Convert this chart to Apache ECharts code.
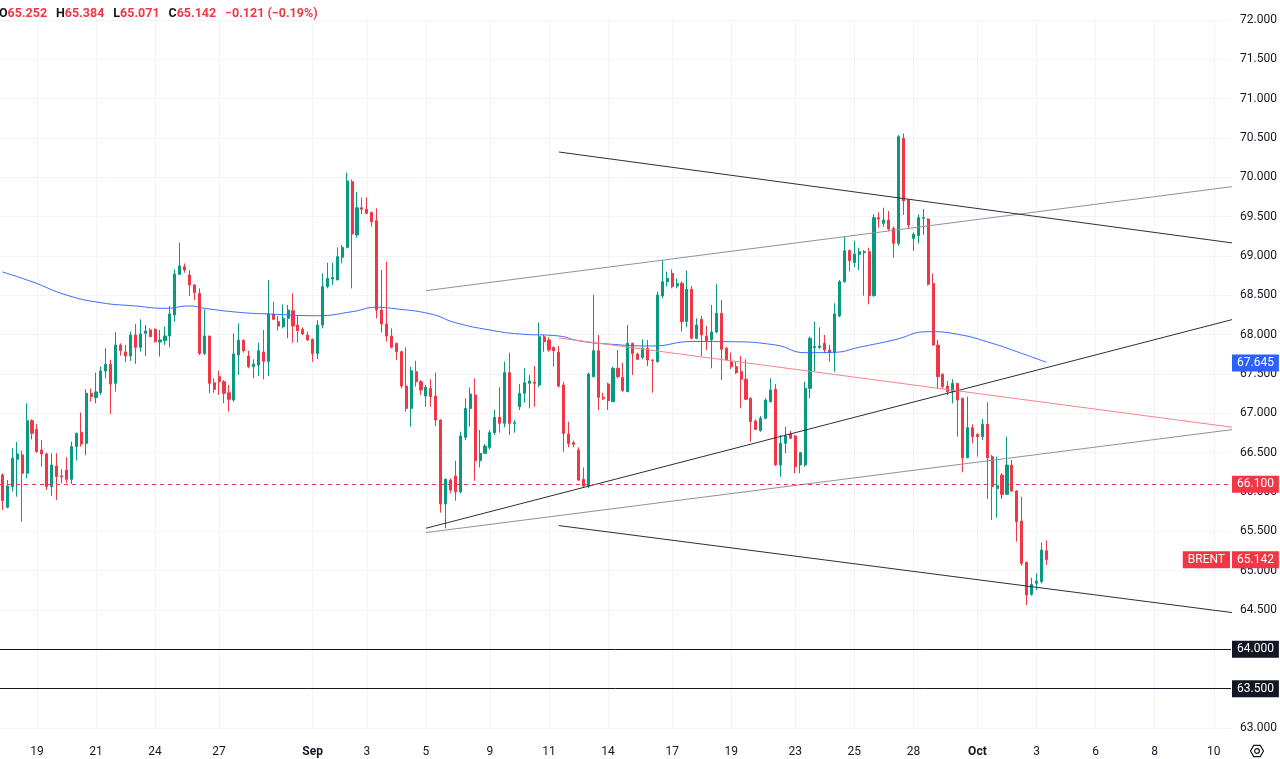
<!DOCTYPE html>
<html><head><meta charset="utf-8">
<script src="https://cdn.jsdelivr.net/npm/echarts@6.0.0/dist/echarts.min.js"></script>
<style>html,body{margin:0;padding:0;background:#fff}#c{width:1280px;height:759px}</style>
</head><body><div id="c"></div>
<script>
// ---- data (4h candles, BRENT) ----
const openP = [66.217,65.806,66.068,66.416,66.471,66.238,66.907,66.797,66.534,66.484,66.068,66.331,66.204,66.280,66.162,66.577,66.759,66.619,67.255,67.200,
67.263,67.539,67.623,67.382,67.869,67.780,67.729,67.996,67.839,68.017,68.060,68.068,67.907,67.924,67.984,68.250,68.767,68.864,68.758,68.631,
68.525,67.762,67.983,67.389,67.466,67.402,67.262,67.169,67.741,67.928,67.728,67.593,67.614,67.779,67.661,68.262,68.165,68.101,68.207,68.305,
68.123,68.067,67.995,67.940,67.762,68.123,68.610,68.707,68.695,68.983,69.110,69.945,69.267,69.614,69.593,69.555,69.449,68.313,68.135,67.983,
67.889,67.784,67.347,67.063,67.529,67.402,67.220,67.317,67.220,66.915,65.847,66.152,66.203,66.004,66.695,67.063,67.233,66.398,66.491,66.567,
66.754,66.949,66.873,67.517,66.873,67.084,67.254,67.381,67.398,67.360,67.974,67.932,67.839,67.775,67.360,66.737,66.627,66.534,66.161,66.076,
67.466,67.796,67.203,67.373,67.148,67.572,67.457,67.275,67.890,67.754,67.712,67.826,67.678,67.657,68.491,68.673,68.779,68.618,68.653,68.166,
68.577,67.954,68.195,67.983,67.933,68.034,68.272,67.827,67.657,67.594,67.530,67.433,67.191,66.903,66.780,66.937,67.149,67.305,66.344,66.619,
66.738,66.712,66.344,66.344,67.318,67.835,67.839,67.890,67.805,67.772,68.238,68.674,69.068,68.916,69.021,69.042,69.055,68.496,69.487,69.415,
69.457,69.351,69.161,70.496,69.712,69.224,69.258,69.479,69.470,68.652,67.868,67.496,67.347,67.275,67.381,67.190,66.436,66.818,66.733,66.703,
66.860,66.449,66.046,66.216,65.970,66.343,66.012,65.631,65.106,64.699,64.839,64.860,65.252];
const closeP = [65.890,66.077,66.428,66.484,66.238,66.907,66.746,66.513,66.484,66.068,66.344,66.195,66.191,66.162,66.577,66.746,66.611,67.255,67.212,67.272,
67.539,67.623,67.373,67.869,67.797,67.729,67.996,67.839,68.009,68.047,67.975,67.912,67.933,67.984,68.263,68.772,68.873,68.822,68.631,68.534,
67.762,67.983,67.381,67.305,67.402,67.254,67.178,67.754,67.928,67.796,67.593,67.627,67.796,67.661,68.262,68.195,68.110,68.207,68.313,68.110,
68.051,68.008,67.932,67.762,68.123,68.610,68.716,68.728,68.991,69.110,69.953,69.279,69.614,69.593,69.542,69.436,68.313,68.135,67.983,67.839,
67.784,67.347,67.063,67.542,67.402,67.296,67.330,67.212,66.915,65.847,66.161,66.025,66.004,66.712,67.063,67.245,66.398,66.491,66.584,66.754,
66.949,66.873,67.517,66.873,66.881,67.254,67.390,67.411,67.381,67.974,67.911,67.805,67.796,67.347,66.745,66.618,66.606,66.152,66.076,67.500,
67.796,67.203,67.186,67.161,67.572,67.466,67.288,67.890,67.762,67.686,67.826,67.678,67.669,68.504,68.673,68.716,68.610,68.652,68.166,68.577,
67.954,68.123,67.996,67.924,68.034,68.272,67.814,67.678,67.594,67.517,67.433,67.178,66.894,66.797,66.937,67.170,67.297,66.344,66.619,66.712,
66.683,66.322,66.500,67.318,67.954,67.848,67.856,67.805,67.772,68.263,68.674,69.068,68.941,69.026,69.055,69.055,68.496,69.487,69.470,69.457,
69.343,69.161,70.517,69.699,69.394,69.275,69.487,69.487,68.640,67.868,67.466,67.339,67.275,67.381,67.169,66.436,66.818,66.703,66.703,66.860,
66.436,66.068,66.080,65.970,66.343,66.012,65.623,65.093,64.690,64.826,64.868,65.262,65.142];
const lowP = [65.772,65.793,66.005,65.941,65.623,66.174,66.670,66.500,66.323,66.026,65.950,65.899,66.111,66.111,66.102,66.399,66.577,66.467,67.149,67.128,
67.234,67.445,66.992,67.276,67.734,67.649,67.666,67.628,67.784,67.729,67.967,67.899,67.721,67.869,67.839,68.166,68.759,68.788,68.491,68.440,
67.741,67.741,67.254,67.262,67.233,67.127,67.021,67.148,67.487,67.771,67.572,67.445,67.474,67.432,67.474,68.186,68.051,68.080,67.953,67.898,
67.898,67.995,67.923,67.656,67.690,68.080,68.589,68.631,68.695,68.906,69.097,68.589,69.233,69.534,69.534,69.373,68.207,68.025,67.911,67.826,
67.678,67.317,67.021,66.830,67.339,67.233,67.084,67.084,66.839,65.737,65.538,65.983,65.889,65.983,66.661,66.830,66.144,66.313,66.483,66.542,
66.724,66.754,66.822,66.724,66.754,67.042,67.135,67.063,67.084,67.330,67.784,67.784,67.593,67.330,66.512,66.568,66.568,66.144,66.059,66.046,
67.457,67.042,67.169,67.042,67.148,67.445,67.275,67.275,67.487,67.678,67.686,67.601,67.262,67.644,68.462,68.610,68.589,68.589,68.039,68.094,
67.941,67.941,67.729,67.805,67.572,68.017,67.424,67.670,67.560,67.500,67.064,67.170,66.640,66.789,66.767,66.924,67.136,66.331,66.195,66.492,
66.670,66.238,66.238,66.322,67.191,67.530,67.814,67.763,67.657,67.530,68.221,68.661,68.801,68.856,68.822,68.496,68.385,68.483,69.360,69.373,
69.318,68.979,69.131,69.521,69.343,69.063,69.161,69.267,68.623,67.860,67.309,67.318,67.233,67.127,66.703,66.250,66.428,66.618,66.449,66.661,
65.911,65.644,65.673,65.911,65.962,66.004,65.368,65.063,64.563,64.682,64.754,64.839,65.071];
const highP = [66.238,66.153,66.556,66.636,66.526,67.128,66.924,66.865,66.662,66.500,66.492,66.492,66.289,66.441,66.640,66.755,67.009,67.306,67.314,67.517,
67.594,67.827,67.678,68.034,67.890,67.869,68.039,68.136,68.195,68.123,68.081,68.081,68.060,68.102,68.365,68.831,69.170,68.906,68.822,68.644,
68.589,68.322,67.983,67.445,67.542,67.423,67.360,68.017,68.144,67.940,67.796,67.686,67.898,68.059,68.695,68.419,68.237,68.385,68.377,68.525,
68.250,68.093,68.038,67.953,68.186,68.779,68.915,68.915,69.110,69.139,70.059,69.974,69.817,69.745,69.745,69.563,69.606,68.822,68.928,68.080,
67.898,67.796,67.839,67.593,67.669,67.423,67.360,67.432,67.517,66.923,66.173,66.173,66.398,66.767,67.190,67.330,67.445,66.788,66.610,66.788,
67.042,67.330,67.656,67.771,66.915,67.373,67.572,67.487,67.601,68.152,67.995,67.966,67.847,67.856,67.402,66.894,66.652,66.568,66.313,67.517,
68.504,67.995,67.262,67.390,67.593,67.805,67.644,68.123,67.898,67.771,67.940,67.932,67.686,68.546,68.949,68.801,68.830,68.716,68.674,68.814,
68.619,68.208,68.238,68.111,68.377,68.644,68.441,67.848,67.772,67.657,67.729,67.687,67.204,66.924,66.966,67.191,67.445,67.373,66.725,66.831,
66.780,66.725,66.500,67.403,67.975,68.166,68.094,67.996,67.869,68.399,68.695,69.246,69.085,69.195,69.106,69.076,69.106,69.529,69.555,69.614,
69.572,69.373,70.538,70.559,69.724,69.301,69.529,69.597,69.479,68.779,67.932,67.508,67.411,67.436,67.381,67.199,67.212,66.860,66.746,66.928,
67.140,66.470,66.449,66.237,66.703,66.407,66.025,65.940,65.114,64.911,64.966,65.360,65.384];

// moving average (sparse readings: [slot index, value])
const maPoints = [[0,68.797],[6,68.673],[13,68.504],[20,68.406],[27,68.365],[33,68.335],[38,68.365],[41,68.335],[48,68.284],[54,68.263],
[64,68.241],[71,68.292],[76,68.348],[79,68.335],[87,68.263],[92,68.152],[99,68.059],[105,68.009],[113,67.983],[117,67.923],
[123,67.881],[132,67.856],[140,67.913],[147,67.911],[157,67.869],[163,67.771],[169,67.776],[174,67.840],[181,67.932],[188,68.038],
[194,68.005],[201,67.890],[206,67.784],[212,67.649]];
const maLast = 67.645;

// time slots and tick labels
const slotCount = 250;
const tickIdx  = [7,19,31,44,63,74,86,99,111,123,136,148,161,173,185,198,210,222,234,246];
const tickText = ['19','21','24','27','Sep','3','5','9','11','14','17','19','23','25','28','Oct','3','6','8','10'];

// drawings: [x1, price1, x2, price2]
const grayUpper   = [86.02, 68.559, 249.5, 69.884];
const blackUpper  = [113.23, 70.322, 249.5, 69.164];
const blackRising = [86.02, 65.539, 249.5, 68.196];
const grayLower   = [86.02, 65.484, 249.5, 66.795];
const redLine     = [113.03, 67.958, 249.5, 66.821];
const blackLower  = [113.23, 65.573, 249.5, 64.465];
const levels = [64, 63.5];
const alertLevel = 66.1;
const symbolName = 'BRENT';
const changeAbs = -0.121, changePct = -0.19;

// ---- chart ----
const UP = '#089981', DN = '#f23645', INK = '#131722', GRID = '#f0f3fa';
const cats = Array.from({length: slotCount}, (_, i) => String(i));
const candles = openP.map((o, i) => [o, closeP[i], lowP[i], highP[i]]);
const tickSet = new Set(tickIdx);
const last = openP.length - 1;
const f3 = v => v.toFixed(3);
const sgn = v => (v < 0 ? '\u2212' : '+') + Math.abs(v);
const HIDDEN = {color: 'rgba(0,0,0,0)', width: 1, type: 'solid'};

function seg(arr, color) {
  return {
    type: 'line', data: [[arr[0], arr[1]], [arr[2], arr[3]]],
    showSymbol: false, symbol: 'none', silent: true, z: 4, clip: true,
    lineStyle: {color: color, width: 1}
  };
}
function boxLabel(text, bg, pos) {
  return {show: true, position: pos || 'end', distance: 1, formatter: text, color: '#fff', opacity: 1,
    backgroundColor: bg, padding: [3, 5, 2, 5], fontSize: 12, fontFamily: 'Roboto, sans-serif'};
}

const chart = echarts.init(document.getElementById('c'), null, {renderer: 'canvas'});
chart.setOption({
  animation: false,
  backgroundColor: '#fff',
  textStyle: {fontFamily: 'Roboto, "Noto Sans", sans-serif'},
  title: {
    left: -1, top: 5, padding: 0,
    text: '{d|O}{r|' + f3(openP[last]) + '}  {d|H}{r|' + f3(highP[last]) + '}  {d|L}{r|' + f3(lowP[last]) +
          '}  {d|C}{r|' + f3(closeP[last]) + '}  {r|' + sgn(changeAbs) + ' (' + sgn(changePct) + '%)}',
    textStyle: {
      rich: {
        d: {color: INK, fontSize: 12.5, fontFamily: 'Roboto, sans-serif'},
        r: {color: DN, fontSize: 12.5, fontFamily: 'Roboto, sans-serif'}
      }
    }
  },
  grid: {left: 0, right: 49, top: 20, bottom: 31},
  xAxis: {
    type: 'category', data: cats, boundaryGap: true,
    axisLine: {show: false}, axisTick: {show: false, alignWithLabel: true},
    axisLabel: {
      interval: (i) => tickSet.has(i), margin: 18, color: INK, fontSize: 12,
      formatter: (v) => {
        const t = tickText[tickIdx.indexOf(Number(v))];
        return isNaN(Number(t)) ? '{b|' + t + '}' : t;
      },
      rich: {b: {fontWeight: 'bold', fontSize: 12, color: INK}}
    },
    splitLine: {show: true, interval: (i) => tickSet.has(i), alignWithLabel: true, lineStyle: {color: GRID, width: 1}}
  },
  yAxis: {
    type: 'value', position: 'right', min: 63, max: 72, interval: 0.5,
    axisLine: {show: false}, axisTick: {show: false},
    axisLabel: {formatter: v => v.toFixed(3), color: INK, fontSize: 12, margin: 9},
    splitLine: {lineStyle: {color: GRID, width: 1}}
  },
  series: [
    {
      type: 'candlestick', data: candles, barWidth: 2.6, z: 2,
      itemStyle: {color: UP, color0: DN, borderColor: UP, borderColor0: DN, borderWidth: 1},
      markLine: {
        silent: true, symbol: ['none', 'none'], animation: false, z: 5,
        label: {show: false},
        data: [
          {yAxis: alertLevel, lineStyle: {color: DN, width: 1, type: [4, 4]}, label: boxLabel(f3(alertLevel), DN)},
          {yAxis: levels[0], lineStyle: {color: INK, width: 1, type: 'solid'}, label: boxLabel(f3(levels[0]), INK)},
          {yAxis: levels[1], lineStyle: {color: INK, width: 1, type: 'solid'}, label: boxLabel(f3(levels[1]), INK)},
          {yAxis: maLast, lineStyle: HIDDEN, label: boxLabel(f3(maLast), '#2962ff')},
          {yAxis: closeP[last], lineStyle: HIDDEN, label: boxLabel(f3(closeP[last]), DN)},
          {yAxis: closeP[last], lineStyle: HIDDEN, label: boxLabel(symbolName, DN, 'insideEnd')}
        ]
      }
    },
    {
      type: 'line', data: maPoints, smooth: true, showSymbol: false, symbol: 'none', silent: true, z: 3,
      lineStyle: {color: '#3a6cff', width: 1}
    },
    seg(grayUpper, '#8f929b'),
    seg(blackUpper, '#2a2e39'),
    seg(blackRising, '#2a2e39'),
    seg(grayLower, '#8f929b'),
    seg(redLine, '#f7838a'),
    seg(blackLower, '#2a2e39')
  ],
  graphic: [{
    type: 'group', x: 1250, y: 744, silent: true,
    children: [
      {type: 'polygon', shape: {points: [[0.5,7],[3.75,1.4],[10.25,1.4],[13.5,7],[10.25,12.6],[3.75,12.6]]},
       style: {fill: 'none', stroke: INK, lineWidth: 1.2}},
      {type: 'circle', shape: {cx: 7, cy: 7, r: 2.4}, style: {fill: 'none', stroke: INK, lineWidth: 1.2}}
    ]
  }]
});
</script>
</body></html>
